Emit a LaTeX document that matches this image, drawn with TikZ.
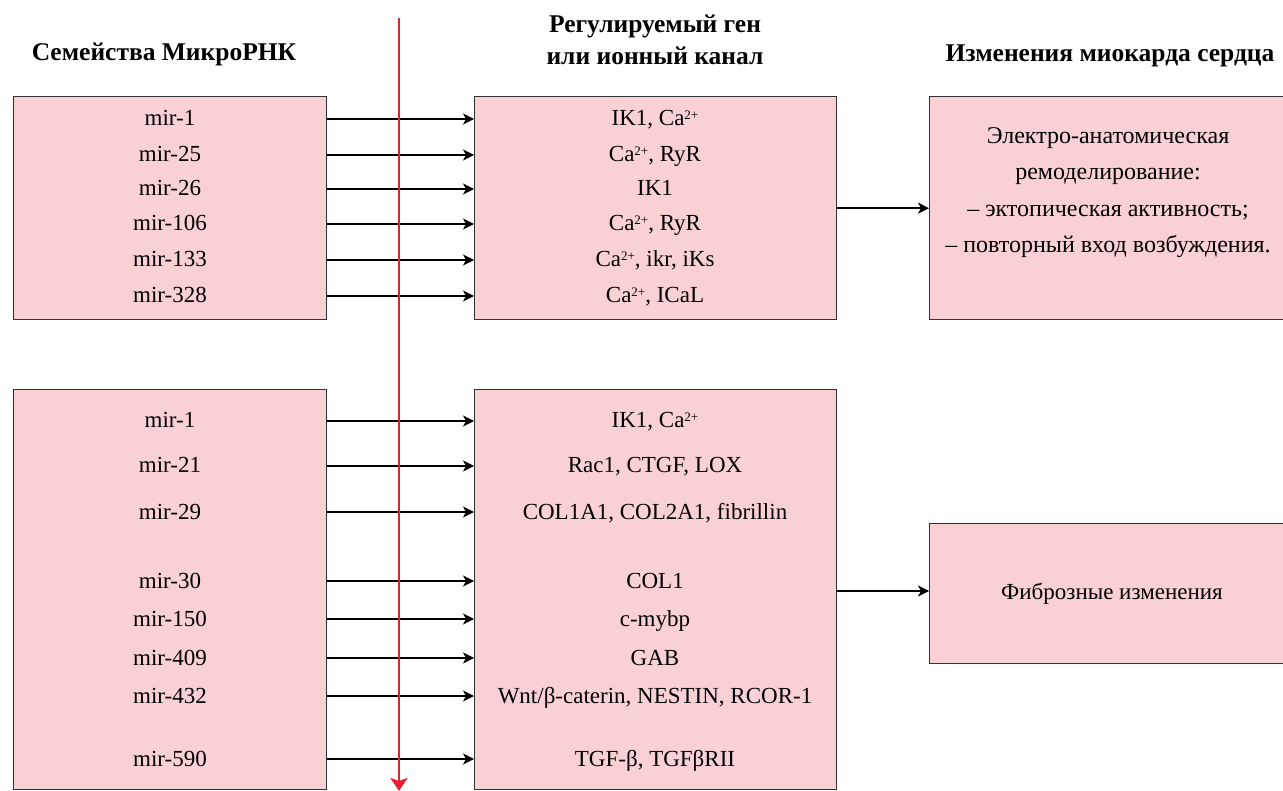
\documentclass[tikz,border=0pt]{standalone}
\usepackage{fontspec}
\setmainfont{Liberation Serif}
\usetikzlibrary{arrows.meta}
\definecolor{boxfill}{RGB}{249,209,212}
\definecolor{boxline}{RGB}{50,50,50}
\definecolor{redline}{RGB}{237,30,46}
\newcommand\supr[1]{\raisebox{6.5pt}{\fontsize{13}{13}\selectfont #1}}
\begin{document}
\begin{tikzpicture}[x=1pt,y=-1pt,
  box/.style={draw=boxline,fill=boxfill,line width=1.3pt,inner sep=0pt,anchor=north west},
  txt/.style={inner sep=0pt,font=\fontsize{23}{27}\selectfont,text height=15pt,text depth=1pt},
  rtxt/.style={txt,font=\fontsize{24}{28}\selectfont},
  head/.style={inner sep=0pt,anchor=base,font=\fontsize{25.5}{30}\selectfont\bfseries},
  arr/.style={line width=1.3pt,-{Stealth[length=11pt,width=11pt,inset=3pt]}},
  redarr/.style={draw=redline,line width=2.6pt,-{Stealth[length=13pt,width=17pt,inset=3pt]}}]
\useasboundingbox (0,0) rectangle (1283,791);
% headings
\node[head] (h1) at (164,61) {Семейства МикроРНК};
\node[head] (h2) at (655,33) {Регулируемый ген};
\node[head] (h3) at (655,65) {или ионный канал};
\node[head] (h4) at (1110,62) {Изменения миокарда сердца};
% boxes
\node[box,minimum width=313pt,minimum height=223pt] (L1) at (13,96) {};
\node[box,minimum width=362pt,minimum height=223pt] (M1) at (474,96) {};
\node[box,minimum width=360pt,minimum height=223pt] (R1) at (929,96) {};
\node[box,minimum width=313pt,minimum height=400pt] (L2) at (13,389) {};
\node[box,minimum width=362pt,minimum height=400pt] (M2) at (474,389) {};
\node[box,minimum width=360pt,minimum height=140pt] (R2) at (929,523) {};
% top rows
\node[txt] (a1) at (170,119) {mir-1};
\node[txt] (a2) at (170,155) {mir-25};
\node[txt] (a3) at (170,189) {mir-26};
\node[txt] (a4) at (170,224) {mir-106};
\node[txt] (a5) at (170,260) {mir-133};
\node[txt] (a6) at (170,296) {mir-328};
\node[txt] (b1) at (655,119) {IK1, Ca\supr{2+}};
\node[txt] (b2) at (655,155) {Ca\supr{2+}, RyR};
\node[txt] (b3) at (655,189) {IK1};
\node[txt] (b4) at (655,224) {Ca\supr{2+}, RyR};
\node[txt] (b5) at (655,260) {Ca\supr{2+}, ikr, iKs};
\node[txt] (b6) at (655,296) {Ca\supr{2+}, ICaL};
\foreach \i in {1,...,6}{\draw[arr] (L1.east |- a\i) -- (M1.west |- a\i);}
% right top text
\node[rtxt] (r1) at (1108,137) {Электро-анатомическая};
\node[rtxt] (r2) at (1108,173) {ремоделирование:};
\node[rtxt] (r3) at (1108,210) {– эктопическая активность;};
\node[rtxt] (r4) at (1108,246) {– повторный вход возбуждения.};
\draw[arr] (M1.east) -- (R1.west);
% bottom rows
\node[txt] (c1) at (170,421) {mir-1};
\node[txt] (c2) at (170,466) {mir-21};
\node[txt] (c3) at (170,512) {mir-29};
\node[txt] (c4) at (170,581) {mir-30};
\node[txt] (c5) at (170,619) {mir-150};
\node[txt] (c6) at (170,658) {mir-409};
\node[txt] (c7) at (170,696) {mir-432};
\node[txt] (c8) at (170,759) {mir-590};
\node[txt] (d1) at (655,421) {IK1, Ca\supr{2+}};
\node[txt] (d2) at (655,466) {Rac1, CTGF, LOX};
\node[txt] (d3) at (655,512) {COL1A1, COL2A1, fibrillin};
\node[txt] (d4) at (655,581) {COL1};
\node[txt] (d5) at (655,619) {c-mybp};
\node[txt] (d6) at (655,658) {GAB};
\node[txt] (d7) at (655,696) {Wnt/β-caterin, NESTIN, RCOR-1};
\node[txt] (d8) at (655,759) {TGF-β, TGFβRII};
\foreach \i in {1,...,8}{\draw[arr] (L2.east |- c\i) -- (M2.west |- c\i);}
\node[txt] (f1) at (1112,592) {Фиброзные изменения};
\coordinate (m2out) at (836,591);
\draw[arr] (m2out) -- (m2out -| R2.west);
% red arrow
\coordinate (rtop) at (399,18);
\coordinate (rbot) at (399,791);
\draw[redarr] (rtop) -- (rbot);
\end{tikzpicture}
\end{document}
